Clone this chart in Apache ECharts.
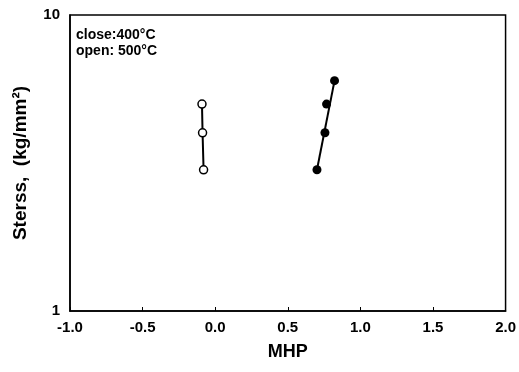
<!DOCTYPE html>
<html><head><meta charset="utf-8">
<script src="https://cdn.jsdelivr.net/npm/echarts@6/dist/echarts.min.js"></script>
<style>html,body{margin:0;padding:0;background:#fff}#c{width:519px;height:372px}</style>
</head><body><div id="c"></div>
<script>
// open circles (500°C)
const openX = [-0.091, -0.087, -0.080];
const openY = [5, 4, 3];
// filled circles (400°C)
const closeX = [0.822, 0.767, 0.756, 0.701];
const closeY = [6, 5, 4, 3];
// fitted line for filled circles
const closeFitX = [0.701, 0.822];
const closeFitY = [3, 6];
const xTicks = ['-1.0','-0.5','0.0','0.5','1.0','1.5','2.0'];
const annotations = ['close:400°C', 'open: 500°C'];

const F = '"Liberation Sans", Arial, sans-serif';
const zip = (a, b) => a.map((v, i) => [v, b[i]]);
const chart = echarts.init(document.getElementById('c'));
chart.setOption({
  animation: false,
  backgroundColor: '#fff',
  grid: { left: 70, right: 11, top: 15, bottom: 61, show: true, borderColor: '#000', borderWidth: 1.5, backgroundColor: 'transparent' },
  xAxis: {
    type: 'value', min: -1, max: 2, interval: 0.5,
    name: 'MHP', nameLocation: 'middle', nameGap: 32,
    nameTextStyle: { fontFamily: F, fontWeight: 'bold', fontSize: 18, color: '#000' },
    axisLine: { onZero: false, lineStyle: { color: '#000', width: 1.5 } },
    axisTick: { inside: true, length: 4, lineStyle: { color: '#000' } },
    axisLabel: { margin: 9, fontFamily: F, fontWeight: 'bold', fontSize: 15, color: '#000',
      formatter: v => xTicks[Math.round((v + 1) / 0.5)] },
    splitLine: { show: false }
  },
  yAxis: {
    type: 'log', logBase: 10, min: 1, max: 10,
    name: 'Sterss,  (kg/mm²)', nameLocation: 'middle', nameGap: 40,
    nameTextStyle: { fontFamily: F, fontWeight: 'bold', fontSize: 19, color: '#000' },
    axisLine: { onZero: false, lineStyle: { color: '#000', width: 1.5 } },
    axisTick: { show: false },
    minorTick: { show: false },
    axisLabel: { margin: 10, fontFamily: F, fontWeight: 'bold', fontSize: 15, color: '#000' },
    splitLine: { show: false }
  },
  graphic: annotations.map((t, i) => ({
    type: 'text', left: 76, top: 28 + i * 16,
    style: { text: t, font: 'bold 14px ' + F, fill: '#000' }
  })),
  series: [
    { type: 'line', data: zip(openX, openY), symbol: 'circle', symbolSize: 8,
      itemStyle: { color: '#fff', borderColor: '#000', borderWidth: 1.5 },
      lineStyle: { color: '#000', width: 2 }, z: 3 },
    { type: 'line', data: zip(closeFitX, closeFitY), symbol: 'none',
      lineStyle: { color: '#000', width: 2 }, z: 2 },
    { type: 'scatter', data: zip(closeX, closeY), symbol: 'circle', symbolSize: 9,
      itemStyle: { color: '#000', opacity: 1 }, z: 4 }
  ]
});
</script></body></html>
